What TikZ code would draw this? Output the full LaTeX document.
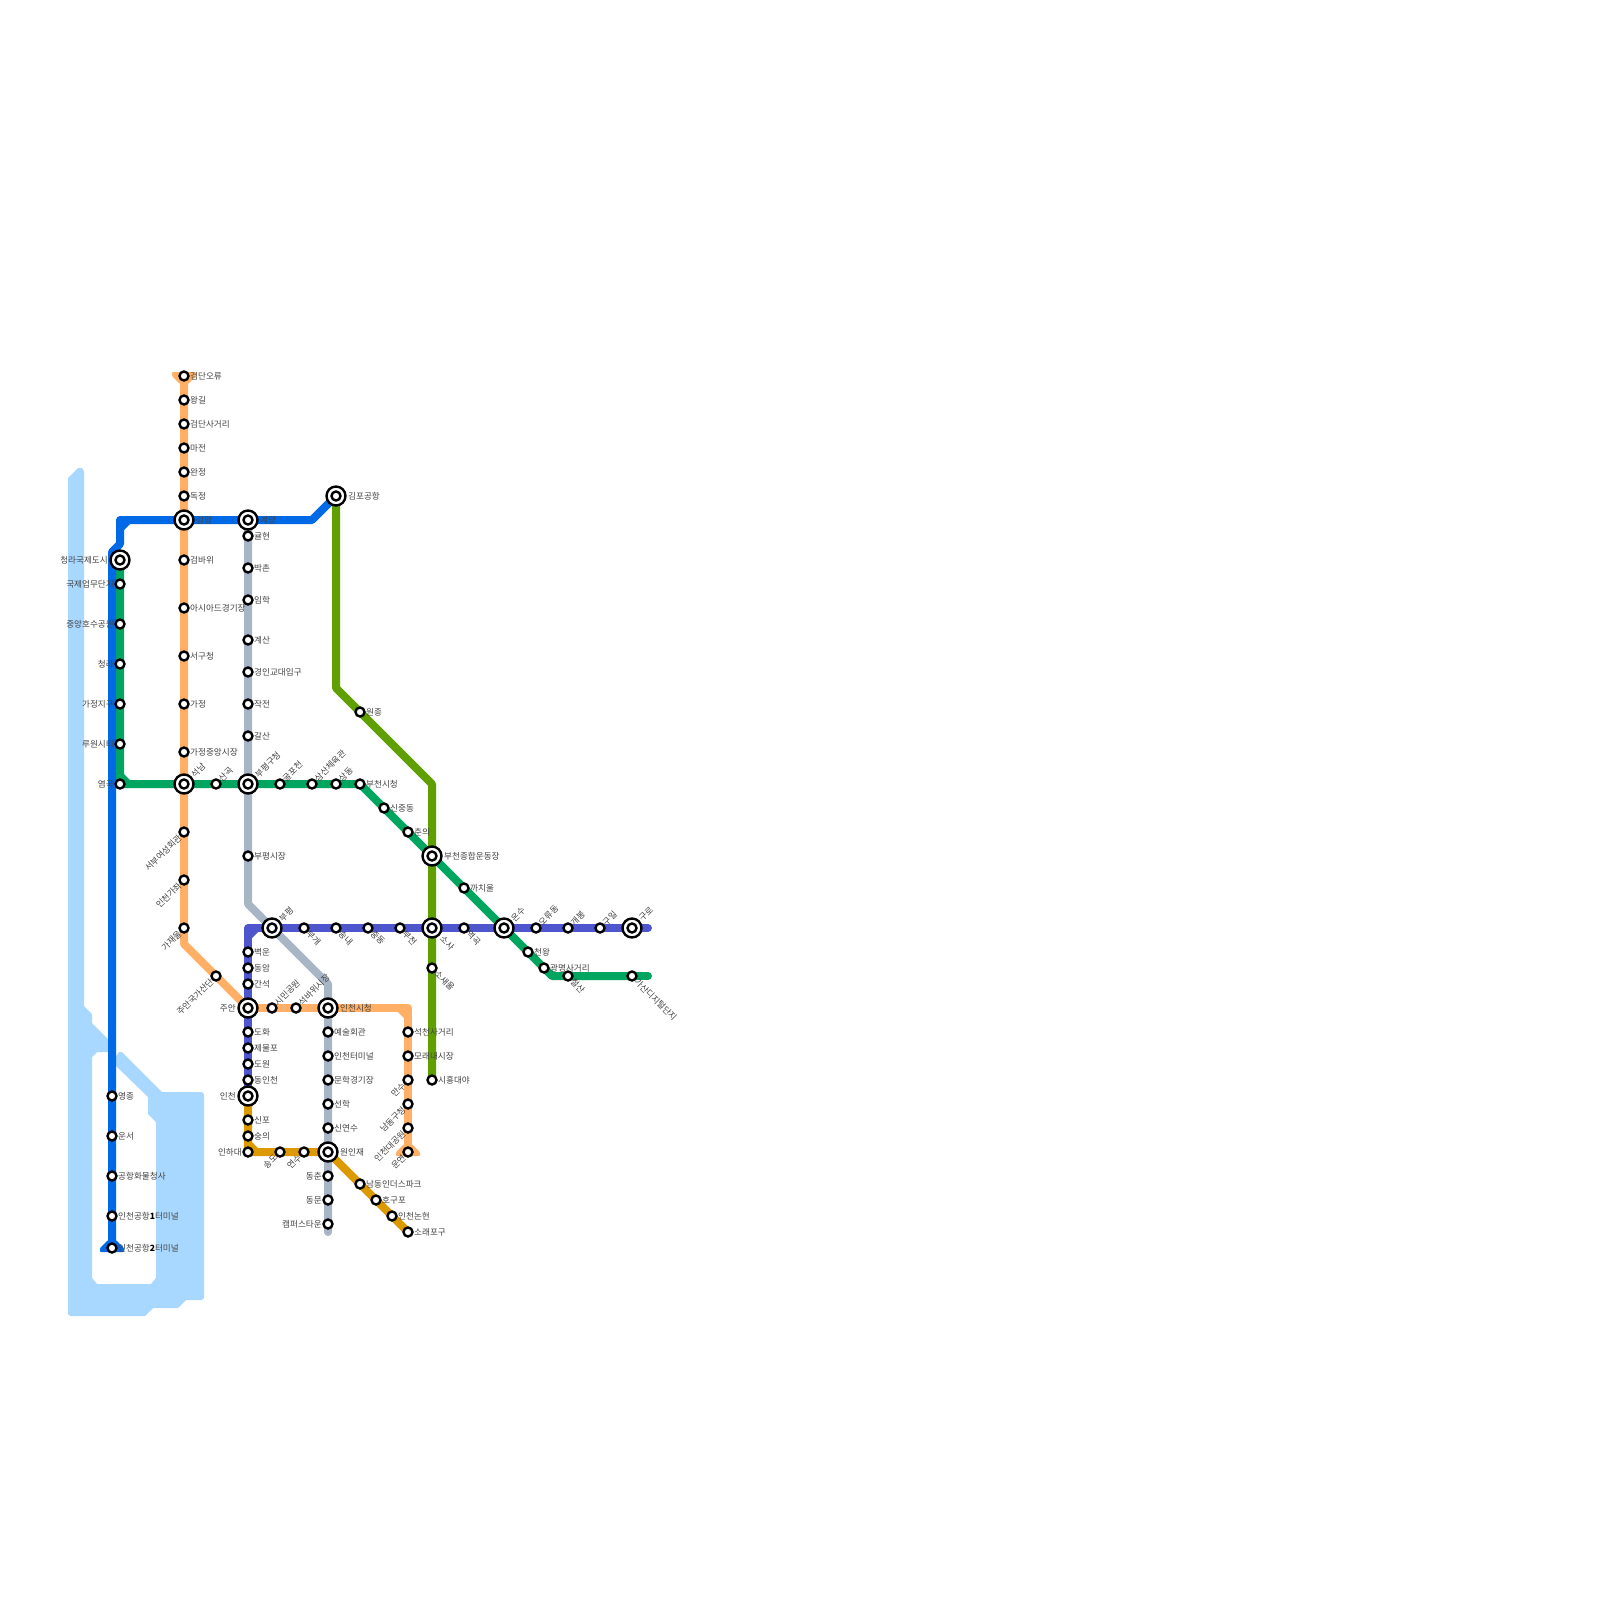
\documentclass[tikz,border=0pt]{standalone}
\usepackage{fontspec}
\setmainfont{Noto Sans CJK KR}
\usetikzlibrary{calc}
\definecolor{cWater}{HTML}{A8D8FF}
\definecolor{cBlue}{HTML}{0069E6}
\definecolor{cGreen}{HTML}{00A660}
\definecolor{cOrange}{HTML}{FFB066}
\definecolor{cGray}{HTML}{A8B5C5}
\definecolor{cIndigo}{HTML}{4F55CC}
\definecolor{cBrown}{HTML}{DD9900}
\definecolor{cOlive}{HTML}{5F9F00}
\definecolor{cText}{HTML}{444444}
\pgfdeclarelayer{lines}
\pgfsetlayers{lines,main}
\tikzset{
  stop/.style={circle,draw=black,line width=2.4pt,fill=white,minimum size=9pt,inner sep=0pt},
  bigstop/.style={circle,draw=black,line width=2.4pt,fill=white,minimum size=19pt,inner sep=0pt},
  lab/.style={font=\fontsize{8.6pt}{9.6pt}\selectfont,text=cText,inner sep=0pt},
  metro/.style={line width=8pt,line join=round},
}
% small stops: R right, L left, U up-right, D down-right, W down-left
\newcommand{\SR}[3]{\node[stop] (#1) at (#2) {}; \node[lab,anchor=west] (#1t) at ([shift={(6,0)}]#1.center) {#3};}
\newcommand{\SL}[3]{\node[stop] (#1) at (#2) {}; \node[lab,anchor=east] (#1t) at ([shift={(-6,0)}]#1.center) {#3};}
\newcommand{\SU}[3]{\node[stop] (#1) at (#2) {}; \node[lab,anchor=west,rotate=45] (#1t) at ([shift={(4,-4)}]#1.center) {#3};}
\newcommand{\SD}[3]{\node[stop] (#1) at (#2) {}; \node[lab,anchor=west,rotate=-45] (#1t) at ([shift={(4,4)}]#1.center) {#3};}
\newcommand{\SW}[3]{\node[stop] (#1) at (#2) {}; \node[lab,anchor=east,rotate=45] (#1t) at ([shift={(-4,4)}]#1.center) {#3};}
% big stops
\newcommand{\BC}[2]{\node[bigstop] (#1) at (#2) {}; \node[stop] (#1i) at (#1.center) {};}
\newcommand{\BR}[3]{\BC{#1}{#2}\node[lab,anchor=west] (#1t) at ([shift={(12,0)}]#1.center) {#3};}
\newcommand{\BL}[3]{\BC{#1}{#2}\node[lab,anchor=east] (#1t) at ([shift={(-12,0)}]#1.center) {#3};}
\newcommand{\BU}[3]{\BC{#1}{#2}\node[lab,anchor=west,rotate=45] (#1t) at ([shift={(8.5,-8)}]#1.center) {#3};}
\newcommand{\BD}[3]{\BC{#1}{#2}\node[lab,anchor=west,rotate=-45] (#1t) at ([shift={(9.5,9.5)}]#1.center) {#3};}
\newcommand{\dg}[1]{{\color{black}\bfseries #1}}
\begin{document}
\begin{tikzpicture}[x=1pt,y=-1pt]
\useasboundingbox (0,0) rectangle (1600,1600);

% stops of orange line
\SR{gdor}{184,376}{검단오류}
\SR{wanggil}{184,400}{왕길}
\SR{gdsa}{184,424}{검단사거리}
\SR{majeon}{184,448}{마전}
\SR{wanjeong}{184,472}{완정}
\SR{dokjeong}{184,496}{독정}
\BR{geomam}{184,520}{검암}
\SR{geombawi}{184,560}{검바위}
\SR{asiad}{184,608}{아시아드경기장}
\SR{seogu}{184,656}{서구청}
\SR{gajeong}{184,704}{가정}
\SR{gjmarket}{184,752}{가정중앙시장}
\BU{seoknam}{184,784}{석남}
\SW{seobu}{184,832}{서부여성회관}
\SW{icgj}{184,880}{인천가좌}
\SW{gajaeul}{184,928}{가재울}
\SW{jugongdan}{216,976}{주안국가산단}
\BL{juan}{248,1008}{주안}
\SU{simin}{272,1008}{시민공원}
\SU{seokbawi}{296,1008}{석바위시장}
\BR{iccity}{328,1008}{인천시청}
\SR{seokcheon}{408,1032}{석천사거리}
\SR{moraenae}{408,1056}{모래내시장}
\SW{mansu}{408,1080}{만수}
\SW{namdong}{408,1104}{남동구청}
\SW{icpark}{408,1128}{인천대공원}
\SW{unyeon}{408,1152}{운연}

% blue line
\BR{gimpo}{336,496}{김포공항}
\BR{gyeyang}{248,520}{계양}
\BL{cheongnaintl}{120,560}{청라국제도시}
\SR{yeongjong}{112,1096}{영종}
\SR{unseo}{112,1136}{운서}
\SR{cargo}{112,1176}{공항화물청사}
\SR{t1}{112,1216}{인천공항\dg{1}터미널}
\SR{t2}{112,1248}{인천공항\dg{2}터미널}

% green line
\SL{gukje}{120,584}{국제업무단지}
\SL{jungang}{120,624}{중앙호수공원}
\SL{cheongna}{120,664}{청라}
\SL{gjjigu}{120,704}{가정지구}
\SL{ruwon}{120,744}{루원시티}
\SL{yeomgok}{120,784}{염곡}
\SU{sangok}{216,784}{산곡}
\BU{bpgu}{248,784}{부평구청}
\SU{gulpo}{280,784}{굴포천}
\SU{samsan}{312,784}{삼산체육관}
\SU{sangdong}{336,784}{상동}
\SR{bucheoncity}{360,784}{부천시청}
\SR{sinjung}{384,808}{신중동}
\SR{chunui}{408,832}{춘의}
\BR{bucheonsta}{432,856}{부천종합운동장}
\SR{kkachi}{464,888}{까치울}
\BU{onsu}{504,928}{온수}
\SR{cheonwang}{528,952}{천왕}
\SR{gwangmyeong}{544,968}{광명사거리}
\SD{cheolsan}{568,976}{철산}
\SD{gasan}{632,976}{가산디지털단지}

% gray line
\SR{gyulhyeon}{248,536}{귤현}
\SR{bakchon}{248,568}{박촌}
\SR{imhak}{248,600}{임학}
\SR{gyesan}{248,640}{계산}
\SR{gyoin}{248,672}{경인교대입구}
\SR{jakjeon}{248,704}{작전}
\SR{galsan}{248,736}{갈산}
\SR{bpmarket}{248,856}{부평시장}
\SR{yesul}{328,1032}{예술회관}
\SR{terminal}{328,1056}{인천터미널}
\SR{munhak}{328,1080}{문학경기장}
\SR{seonhak}{328,1104}{선학}
\SR{sinyeonsu}{328,1128}{신연수}
\BR{woninjae}{328,1152}{원인재}
\SL{dongchun}{328,1176}{동춘}
\SL{dongmun}{328,1200}{동문}
\SL{campus}{328,1224}{캠퍼스타운}

% indigo line
\BU{bupyeong}{272,928}{부평}
\SD{bugae}{304,928}{부개}
\SD{songnae}{336,928}{송내}
\SD{jungdong}{368,928}{중동}
\SD{bucheon}{400,928}{부천}
\BD{sosa}{432,928}{소사}
\SD{yeokgok}{464,928}{역곡}
\SU{oryu}{536,928}{오류동}
\SU{gaebong}{568,928}{개봉}
\SU{guil}{600,928}{구일}
\BU{guro}{632,928}{구로}
\SR{byeokun}{248,952}{벽운}
\SR{dongam}{248,968}{동암}
\SR{ganseok}{248,984}{간석}
\SR{dohwa}{248,1032}{도화}
\SR{jemulpo}{248,1048}{제물포}
\SR{dowon}{248,1064}{도원}
\SR{dongincheon}{248,1080}{동인천}
\BL{incheon}{248,1096}{인천}

% brown line
\SR{sinpo}{248,1120}{신포}
\SR{sungui}{248,1136}{숭의}
\SL{inha}{248,1152}{인하대}
\SW{songdo}{280,1152}{송도}
\SW{yeonsu}{304,1152}{연수}
\SR{namdongind}{360,1184}{남동인더스파크}
\SR{hogupo}{376,1200}{호구포}
\SR{nonhyeon}{392,1216}{인천논현}
\SR{soraepogu}{408,1232}{소래포구}

% olive line
\SR{wonjong}{360,712}{원종}
\SD{sosaeul}{432,968}{소새울}
\SR{siheung}{432,1080}{시흥대야}

% free end points and bends
\coordinate (orBend) at (184,944);
\coordinate (or2Bend) at (408,1008);
\coordinate (blBendA) at (312,520);
\coordinate (blBendB) at (120,520);
\coordinate (blBendC) at (120,544);
\coordinate (blBendD) at (112,552);
\coordinate (grBend) at (120,784);
\coordinate (grBendB) at (552,976);
\coordinate (grEnd) at (648,976);
\coordinate (gyBendA) at (248,904);
\coordinate (gyBendB) at (328,984);
\coordinate (gyEnd) at (328,1232);
\coordinate (inBend) at (248,928);
\coordinate (inEnd) at (648,928);
\coordinate (brBend) at (248,1152);
\coordinate (olBendA) at (336,688);
\coordinate (olBendB) at (432,784);

\begin{pgfonlayer}{lines}
\fill[white] (0,0) rectangle (1600,1600);
% water
\fill[cWater,rounded corners=0.6pt] (68,478) -- (78,468) -- (82,468) -- (84,471) -- (84,1006) -- (92,1014) -- (92,1023) -- (112,1043) -- (112,1052) -- (97,1052) -- (92,1057) -- (92,1278) -- (97,1284) -- (151,1284) -- (156,1278) -- (156,1122) -- (148,1114) -- (148,1097) -- (116,1066) -- (116,1056) -- (119,1052) -- (122,1052) -- (162,1092) -- (202,1092) -- (204,1094) -- (204,1298) -- (202,1300) -- (186,1300) -- (178,1308) -- (153,1308) -- (145,1316) -- (70,1316) -- (68,1314) -- cycle;

% gray
\draw[metro,cGray] (gyeyang.center) -- (gyulhyeon.center) -- (bpgu.center) -- (bpmarket.center) -- (gyBendA) -- (bupyeong.center) -- (gyBendB) -- (iccity.center) -- (woninjae.center) -- (campus.center);
\draw[metro,cGray,line cap=round] (campus.center) -- (gyEnd);

% orange
\draw[metro,cOrange] (gdor.center) -- (geomam.center) -- (seoknam.center) -- (gajaeul.center) -- (orBend) -- (jugongdan.center) -- (juan.center);
\draw[metro,cOrange] (juan.center) -- (simin.center) -- (seokbawi.center) -- (iccity.center) -- (or2Bend) -- (seokcheon.center) -- (unyeon.center);
\fill[cOrange,rounded corners=1pt] (172,372) -- (172,376) -- (180,384) -- (188,384) -- (196,376) -- (196,372) -- cycle;
\fill[cOrange,rounded corners=1pt] (396,1156) -- (396,1152) -- (404,1144) -- (412,1144) -- (420,1152) -- (420,1156) -- cycle;
\fill[cOrange] (404,1012) -- (398,1012) -- (404,1018) -- cycle;

% olive
\draw[metro,cOlive] (gimpo.center) -- (olBendA) -- (wonjong.center) -- (olBendB) -- (bucheonsta.center) -- (sosa.center) -- (sosaeul.center) -- (siheung.center);

% green
\draw[metro,cGreen] (cheongnaintl.center) -- (grBend) -- (seoknam.center) -- (sangok.center) -- (bpgu.center) -- (bucheoncity.center) -- (chunui.center) -- (bucheonsta.center) -- (kkachi.center) -- (onsu.center) -- (gwangmyeong.center) -- (grBendB) -- (cheolsan.center) -- (gasan.center);
\draw[metro,cGreen,line cap=round] (gasan.center) -- (grEnd);
\fill[cGreen] (124,780) -- (124,774) -- (130,780) -- cycle;

% blue
\draw[metro,cBlue] (gimpo.center) -- (blBendA) -- (gyeyang.center) -- (geomam.center) -- (blBendB) -- (blBendC) -- (blBendD) -- (t2.center);
\fill[cBlue] (124,524) -- (130,524) -- (124,530) -- cycle;
\fill[cBlue,rounded corners=1pt] (100,1252) -- (100,1248) -- (108,1240) -- (116,1240) -- (124,1248) -- (124,1252) -- cycle;

% indigo
\draw[metro,cIndigo] (juan.center) -- (ganseok.center) -- (byeokun.center) -- (inBend) -- (bupyeong.center) -- (sosa.center) -- (onsu.center) -- (guro.center);
\draw[metro,cIndigo,line cap=round] (guro.center) -- (inEnd);
\draw[metro,cIndigo] (juan.center) -- (dohwa.center) -- (incheon.center);
\fill[cIndigo] (252,932) -- (258,932) -- (252,938) -- cycle;

% brown
\draw[metro,cBrown] (incheon.center) -- (sinpo.center) -- (brBend) -- (songdo.center) -- (yeonsu.center) -- (woninjae.center) -- (soraepogu.center);
\fill[cBrown] (252,1148) -- (252,1142) -- (258,1148) -- cycle;
\end{pgfonlayer}
\end{tikzpicture}
\end{document}
